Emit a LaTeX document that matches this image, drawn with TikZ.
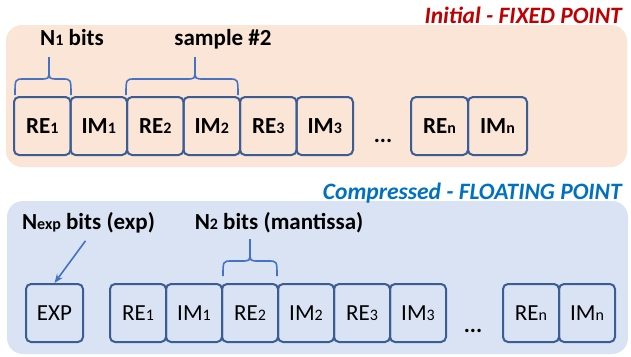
\documentclass[tikz,border=0pt]{standalone}
\usepackage{fontspec}
\setmainfont{Carlito}
\usetikzlibrary{arrows.meta}
\definecolor{peach}{HTML}{FBE5D6}
\definecolor{lblue}{HTML}{DAE3F3}
\definecolor{boxblue}{HTML}{3A5D96}
\definecolor{brblue}{HTML}{4472C4}
\definecolor{tred}{HTML}{C00000}
\definecolor{tblue}{HTML}{0070C0}
\newcommand\sbs[1]{\raisebox{-0.5pt}{\fontsize{16pt}{16pt}\selectfont #1}}
% half-brace pieces: xl xr xt yb ym yt
\newcommand\mybrace[6]{%
  \draw[bracestyle] (#1,#4) .. controls (#1,#5) .. (#1+9,#5) -- (#3-9,#5)
     .. controls (#3,#5) .. (#3,#5-9) -- (#3,#6);
  \draw[bracestyle] (#2,#4) .. controls (#2,#5) .. (#2-9,#5) -- (#3+9,#5)
     .. controls (#3,#5) .. (#3,#5-9) -- (#3,#6);}
\begin{document}
\begin{tikzpicture}[x=1pt,y=-1pt,
  panel/.style={rounded corners=16pt},
  cell/.style={draw=boxblue,line width=2pt,rounded corners=5pt,minimum height=58pt,inner sep=0pt,font=\fontsize{23pt}{23pt}\selectfont},
  tcell/.style={cell,font=\fontsize{23pt}{23pt}\selectfont\bfseries},
  lbl/.style={font=\fontsize{23pt}{23pt}\selectfont\bfseries,inner sep=0pt,anchor=base},
  ttl/.style={font=\fontsize{23.5pt}{23.5pt}\selectfont\bfseries\itshape,inner sep=0pt,anchor=base east},
  bracestyle/.style={draw=brblue,line width=1.6pt},
  dots/.style={font=\fontsize{23pt}{23pt}\selectfont\bfseries,inner sep=0pt}]
\useasboundingbox (0,0) rectangle (631,356);
% panels
\fill[peach,panel] (6,25) rectangle (627,167);
\fill[lblue,panel] (7,201) rectangle (628,354);
% titles
\node[ttl,text=tred] (t1) at (622,23) {Initial - FIXED POINT};
\node[ttl,text=tblue] (t2) at (622,199) {Compressed - FLOATING POINT};
% top row
\node[tcell,minimum width=56.5pt] (re1) at (42.25,126) {RE\sbs{1}};
\node[tcell,minimum width=56.5pt] (im1) at (98.75,126) {IM\sbs{1}};
\node[tcell,minimum width=56.5pt] (re2) at (155.25,126) {RE\sbs{2}};
\node[tcell,minimum width=56.5pt] (im2) at (211.75,126) {IM\sbs{2}};
\node[tcell,minimum width=56.5pt] (re3) at (268.25,126) {RE\sbs{3}};
\node[tcell,minimum width=56.5pt] (im3) at (324.75,126) {IM\sbs{3}};
\node[dots] (d1) at (383,141) {...};
\node[tcell,minimum width=57pt] (ren) at (439.5,126) {RE\sbs{n}};
\node[tcell,minimum width=59pt] (imn) at (497.5,126) {IM\sbs{n}};
\node[lbl] (n1) at (72,45) {N\sbs{1} bits};
\node[lbl] (s2) at (223,45) {sample \#2};
\mybrace{15}{71}{49}{95}{79}{57}
\mybrace{126}{238}{195}{95}{79}{57}
% bottom row
\node[cell,minimum width=57pt] (exp) at (54.5,313) {EXP};
\node[cell,minimum width=56pt] (bre1) at (138,313) {RE\sbs{1}};
\node[cell,minimum width=56pt] (bim1) at (194,313) {IM\sbs{1}};
\node[cell,minimum width=56pt] (bre2) at (250,313) {RE\sbs{2}};
\node[cell,minimum width=56pt] (bim2) at (306,313) {IM\sbs{2}};
\node[cell,minimum width=56pt] (bre3) at (362,313) {RE\sbs{3}};
\node[cell,minimum width=56pt] (bim3) at (418,313) {IM\sbs{3}};
\node[dots] (d2) at (473,331) {...};
\node[cell,minimum width=56pt] (bren) at (531,313) {RE\sbs{n}};
\node[cell,minimum width=56pt] (bimn) at (587,313) {IM\sbs{n}};
\node[lbl] (nexp) at (88.5,229) {N\sbs{exp} bits (exp)};
\node[lbl] (n2) at (279,229) {N\sbs{2} bits (mantissa)};
\mybrace{223}{277}{250}{276}{261}{239}
\draw[draw=brblue,line width=1.6pt,-{Stealth[length=9pt,width=7pt]}] ([xshift=-3pt,yshift=-8pt]nexp.south) -- (exp.north);
\end{tikzpicture}
\end{document}
